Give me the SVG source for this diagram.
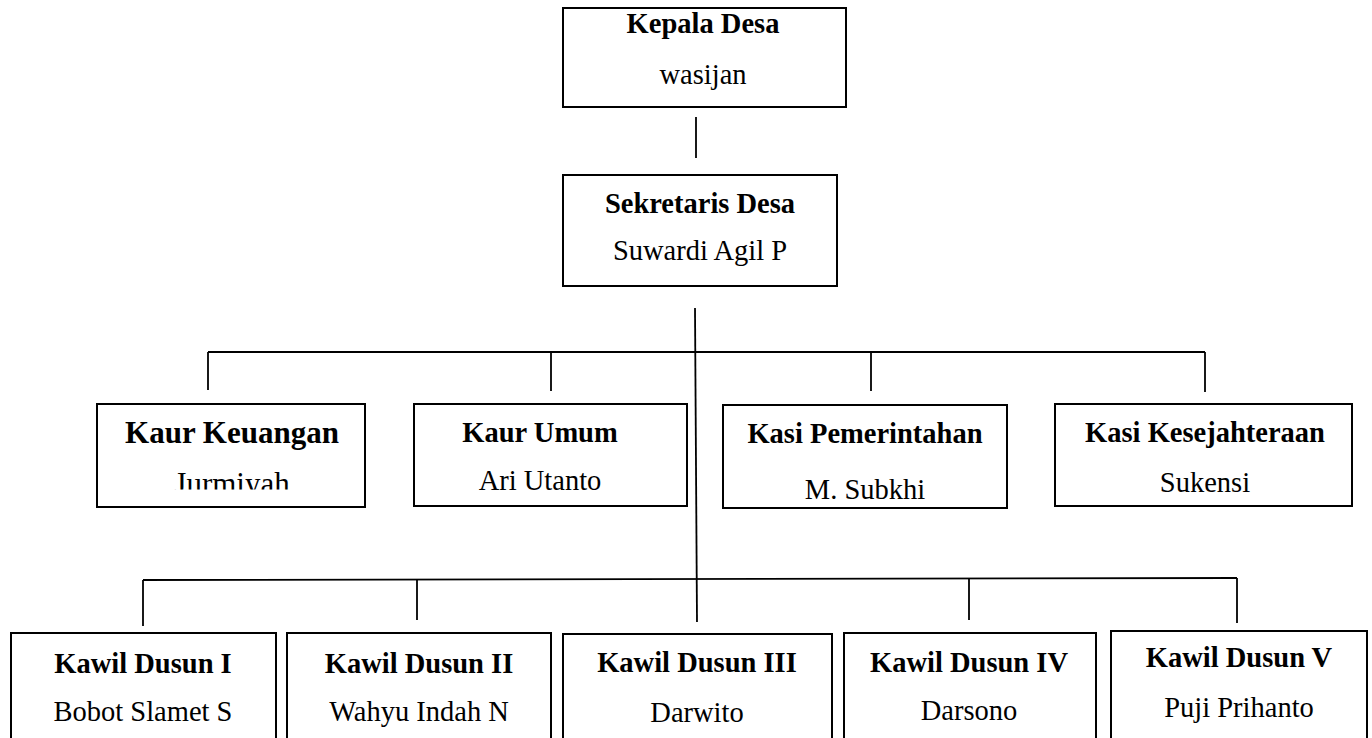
<svg xmlns="http://www.w3.org/2000/svg" width="1372" height="738" viewBox="0 0 1372 738">
<style>
.box{fill:#fff;stroke:#000;stroke-width:2}
.ln{stroke:#000;stroke-width:1.8;fill:none}
.t{font-family:"Liberation Serif","Times New Roman",serif;font-weight:bold;font-size:28.5px;text-anchor:middle;fill:#000}
.n{font-family:"Liberation Serif","Times New Roman",serif;font-size:28.5px;text-anchor:middle;fill:#000}
</style>
<defs>
<clipPath id="clipJ"><rect x="90" y="460" width="280" height="29.5"/></clipPath>
</defs>
<rect width="1372" height="738" fill="#fff"/>
<g id="connectors">
<line class="ln" x1="696" y1="117" x2="696" y2="158"/>
<line class="ln" x1="695" y1="308" x2="697" y2="622"/>
<line class="ln" x1="208" y1="352" x2="1205" y2="352"/>
<line class="ln" x1="208" y1="352" x2="208" y2="390"/>
<line class="ln" x1="551" y1="352" x2="551" y2="391"/>
<line class="ln" x1="871" y1="352" x2="871" y2="391"/>
<line class="ln" x1="1205" y1="352" x2="1205" y2="392"/>
<line class="ln" x1="143" y1="580" x2="1237" y2="578"/>
<line class="ln" x1="143" y1="580" x2="143" y2="626"/>
<line class="ln" x1="417" y1="580" x2="417" y2="620"/>
<line class="ln" x1="969" y1="579" x2="969" y2="620"/>
<line class="ln" x1="1237" y1="578" x2="1237" y2="623"/>
</g>
<g id="kepala-desa">
<rect class="box" x="563" y="8" width="283" height="99"/>
<text class="t" x="703" y="33">Kepala Desa</text>
<text class="n" x="703" y="84">wasijan</text>
</g>
<g id="sekretaris-desa">
<rect class="box" x="563" y="175" width="274" height="111"/>
<text class="t" x="700" y="213">Sekretaris Desa</text>
<text class="n" x="700" y="260">Suwardi Agil P</text>
</g>
<g id="kaur-keuangan">
<rect class="box" x="97" y="404" width="268" height="103"/>
<text class="t" x="232" y="443" style="font-size:31px">Kaur Keuangan</text>
<text class="n" x="232" y="494" style="font-size:31px" clip-path="url(#clipJ)">Jurmiyah</text>
</g>
<g id="kaur-umum">
<rect class="box" x="414" y="404" width="273" height="102"/>
<text class="t" x="540" y="442">Kaur Umum</text>
<text class="n" x="540" y="490">Ari Utanto</text>
</g>
<g id="kasi-pemerintahan">
<rect class="box" x="723" y="405" width="284" height="103"/>
<text class="t" x="865" y="443">Kasi Pemerintahan</text>
<text class="n" x="865" y="499">M. Subkhi</text>
</g>
<g id="kasi-kesejahteraan">
<rect class="box" x="1055" y="404" width="297" height="102"/>
<text class="t" x="1205" y="442">Kasi Kesejahteraan</text>
<text class="n" x="1205" y="492">Sukensi</text>
</g>
<g id="kawil-dusun-1">
<rect class="box" x="11" y="633" width="265" height="115"/>
<text class="t" x="143" y="673">Kawil Dusun I</text>
<text class="n" x="143" y="721">Bobot Slamet S</text>
</g>
<g id="kawil-dusun-2">
<rect class="box" x="287" y="633" width="264" height="115"/>
<text class="t" x="419" y="673">Kawil Dusun II</text>
<text class="n" x="419" y="721">Wahyu Indah N</text>
</g>
<g id="kawil-dusun-3">
<rect class="box" x="563" y="634" width="269" height="115"/>
<text class="t" x="697" y="672">Kawil Dusun III</text>
<text class="n" x="697" y="722">Darwito</text>
</g>
<g id="kawil-dusun-4">
<rect class="box" x="844" y="633" width="252" height="115"/>
<text class="t" x="969" y="672">Kawil Dusun IV</text>
<text class="n" x="969" y="720">Darsono</text>
</g>
<g id="kawil-dusun-5">
<rect class="box" x="1111" y="631" width="256" height="117"/>
<text class="t" x="1239" y="667">Kawil Dusun V</text>
<text class="n" x="1239" y="717">Puji Prihanto</text>
</g>
</svg>
